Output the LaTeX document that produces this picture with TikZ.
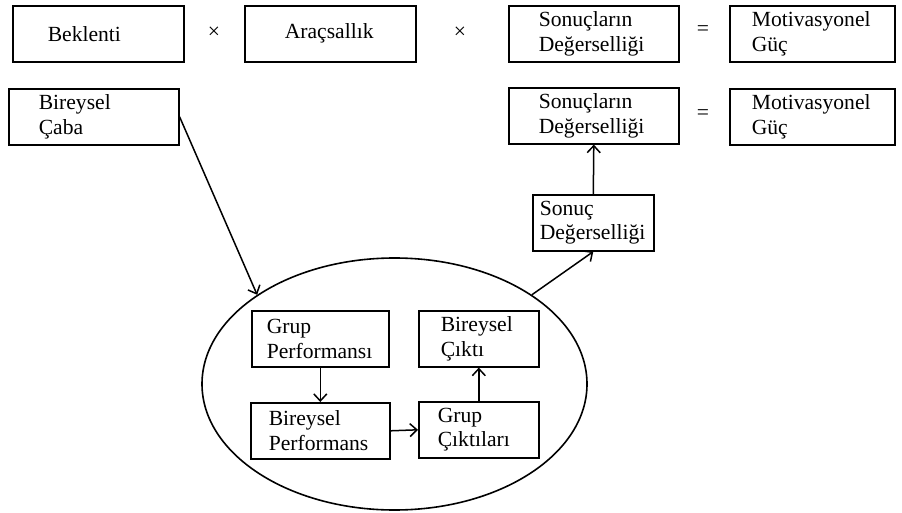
\documentclass[tikz,border=0pt]{standalone}
\usepackage{fontspec}
\setmainfont{Liberation Serif}
\usetikzlibrary{shapes.geometric,arrows.meta}

\begin{document}
\begin{tikzpicture}[x=1pt,y=-1pt,
  box/.style={draw, line width=1.6pt, anchor=north west, align=left, minimum height=56pt, inner ysep=0pt, font=\fontsize{21.6}{24.5}\selectfont},
  sign/.style={inner sep=0pt, font=\fontsize{21.6}{24.5}\selectfont},
  arr/.style={line width=1.5pt, -{Straight Barb[length=7pt,width=13pt]}}]
\useasboundingbox (0,0) rectangle (902,513);
% formula row
\node[box, text width=101pt, inner xsep=35pt] (bek) at (12,5) {Beklenti};
\node[sign] (x1) at (214,33) {×};
\node[box, text width=91pt, inner xsep=40pt] (arac) at (244,5) {Araçsallık};
\node[sign] (x2) at (460,33) {×};
\node[box, text width=110pt, inner xsep=30pt] (sonA) at (508,5) {Sonuçların\\Değerselliği};
\node[sign] (eq1) at (703,31) {=};
\node[box, text width=121pt, inner xsep=22pt] (motA) at (729,5) {Motivasyonel\\Güç};
% second row
\node[box, text width=110pt, inner xsep=30pt] (caba) at (8,88) {Bireysel\\Çaba};
\node[box, text width=110pt, inner xsep=30pt] (sonB) at (508,87) {Sonuçların\\Değerselliği};
\node[sign] (eq2) at (703,115) {=};
\node[box, text width=121pt, inner xsep=22pt] (motB) at (729,88) {Motivasyonel\\Güç};
\node[box, text width=107pt, inner xsep=7pt] (sdeg) at (532,194) {Sonuç\\Değerselliği};
% group
\node[draw, ellipse, line width=1.6pt, minimum width=385pt, minimum height=252pt, inner sep=0pt] (grup) at (394.5,384) {};
\node[box, text width=107pt, inner xsep=15pt] (gperf) at (251,310) {Grup\\Performansı};
\node[box, text width=76pt, inner xsep=22pt] (bcikti) at (418,310) {Bireysel\\Çıktı};
\node[box, text width=103pt, inner xsep=18pt] (bperf) at (250,402) {Bireysel\\Performans};
\node[box, text width=82pt, inner xsep=19pt] (gcikti) at (418,401) {Grup\\Çıktıları};
% arrows
\draw[arr] (caba.east) -- (grup.147);
\draw[arr] (grup.33) -- (sdeg.south);
\draw[arr] (sdeg.north) -- (sonB.south);
\draw[arr] (gperf.south) -- (bperf.north);
\draw[arr] (bperf.east) -- (gcikti.west);
\draw[arr] (gcikti.north) -- (bcikti.south);
\end{tikzpicture}
\end{document}
